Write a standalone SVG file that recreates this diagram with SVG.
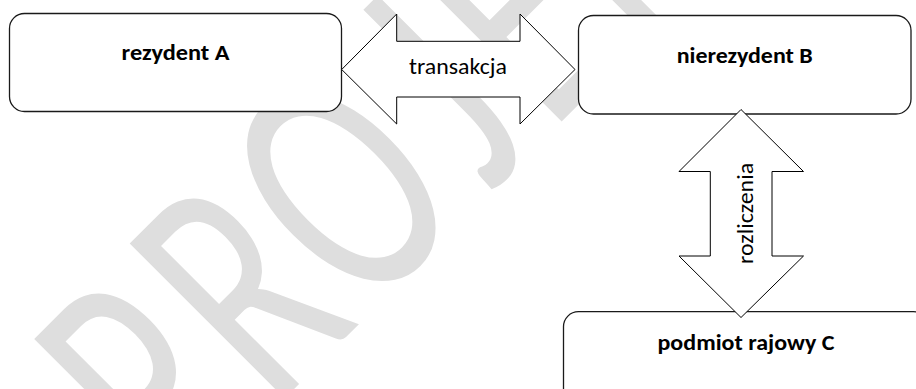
<svg xmlns="http://www.w3.org/2000/svg" width="916" height="389" viewBox="0 0 916 389">
  <style>
    .box { fill: #ffffff; stroke: #1a1a1a; stroke-width: 1.3; }
    .arrow { fill: #ffffff; stroke: #000000; stroke-width: 1; stroke-linejoin: miter; }
    .title { font-family: Carlito, Calibri, Lato, sans-serif; font-weight: bold; font-size: 22px; fill: #000000; text-anchor: middle; }
    .label { font-family: Carlito, Calibri, Lato, sans-serif; font-size: 22px; fill: #000000; text-anchor: middle; }
    .mark { font-family: Carlito, Calibri, Lato, sans-serif; font-size: 230px; fill: #dedede; }
  </style>

  <rect width="916" height="389" fill="#ffffff"/>

  <!-- background watermark, tall letters set on a 45 degree baseline -->
  <g id="watermark">
    <text class="mark" transform="rotate(-45) scale(1,1.485)" x="-232 -97 33 210 295 419 557" y="325.3">PROJEKT</text>
  </g>

  <!-- nodes -->
  <g id="rezydent-a">
    <rect class="box" x="9.5" y="13.5" width="332" height="98" rx="15" ry="15"/>
    <text class="title" x="175.5" y="59.5" textLength="108" lengthAdjust="spacingAndGlyphs">rezydent A</text>
  </g>
  <g id="nierezydent-b">
    <rect class="box" x="578.5" y="15.5" width="332.5" height="98.5" rx="15" ry="15"/>
    <text class="title" x="744.7" y="62.5" textLength="136" lengthAdjust="spacingAndGlyphs">nierezydent B</text>
  </g>
  <g id="podmiot-c">
    <rect class="box" x="563.5" y="311.7" width="365" height="110" rx="15" ry="15"/>
    <text class="title" x="746" y="350" textLength="177" lengthAdjust="spacingAndGlyphs">podmiot rajowy C</text>
  </g>

  <!-- connectors: double block arrows with their labels -->
  <g id="connectors">
    <g id="transakcja">
      <polygon class="arrow" points="341.7,69.5 396.7,14 396.7,41.3 520,41.3 520,14 575,69.5 520,124 520,97 396.7,97 396.7,124"/>
      <text class="label" x="458" y="74" textLength="98" lengthAdjust="spacingAndGlyphs">transakcja</text>
    </g>
    <g id="rozliczenia">
      <polygon class="arrow" points="741,109.5 803.5,171.5 772,171.5 772,256 803.5,256 741,317.5 679,256 710.3,256 710.3,171.5 679,171.5"/>
      <text class="label" transform="translate(753.3,213.4) rotate(-90)" x="0" y="0" textLength="101" lengthAdjust="spacingAndGlyphs">rozliczenia</text>
    </g>
  </g>
</svg>
